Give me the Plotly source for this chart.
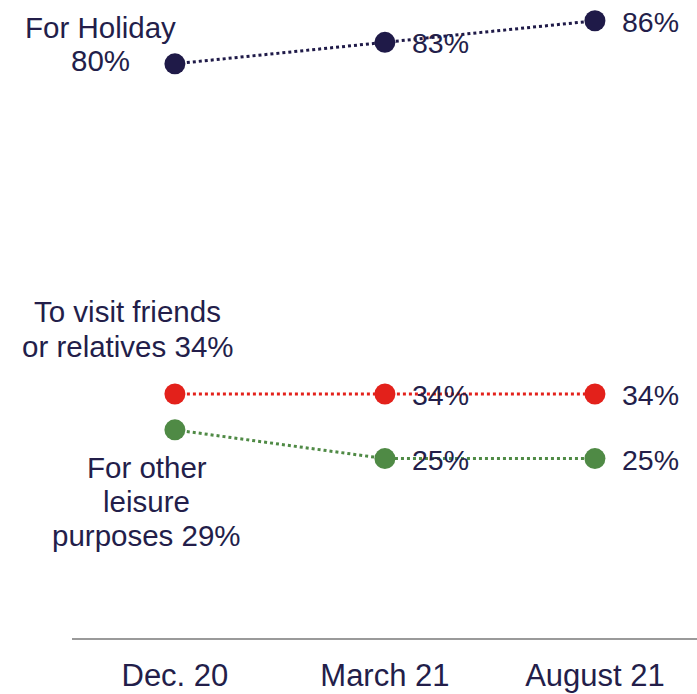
import plotly.graph_objects as go

periods = ["Dec. 20", "March 21", "August 21"]
holiday = [80, 83, 86]
friends = [34, 34, 34]
leisure = [29, 25, 25]

NAVY = "#1f1a48"
RED = "#e3211b"
GREEN = "#4f8a45"
TEXT = "#231e4a"
FONT = "Arial"

fig = go.Figure()

for vals, col in [(holiday, NAVY), (friends, RED), (leisure, GREEN)]:
    fig.add_trace(go.Scatter(
        x=periods, y=vals, mode="lines+markers",
        line=dict(color=col, width=3, dash="dot"),
        marker=dict(color=col, size=21),
        showlegend=False, hoverinfo="skip",
    ))

# value labels for later periods, to the right of each point
for vals in (holiday, friends, leisure):
    for i in (1, 2):
        fig.add_annotation(
            x=periods[i], y=vals[i], text=f"{vals[i]}%",
            xanchor="left", yanchor="middle", xshift=25, yshift=-1,
            showarrow=False, font=dict(size=28.5, color=TEXT, family=FONT),
        )


def series_name(lines, y, xshift, yshifts):
    """Series name beside the first point, one centred annotation per line."""
    for line, ys in zip(lines, yshifts):
        fig.add_annotation(
            x=periods[0], y=y, text=line,
            xanchor="center", yanchor="middle", xshift=xshift, yshift=ys,
            showarrow=False, font=dict(size=29.5, color=TEXT, family=FONT),
        )


series_name(["For Holiday", f"{holiday[0]}%"], holiday[0], -74, [36, 3])
series_name(["To visit friends", f"or relatives {friends[0]}%"], friends[0],
            -47, [82, 47])
series_name(["For other", "leisure", f"purposes {leisure[0]}%"], leisure[0],
            -28, [-38, -72, -106])

fig.update_layout(
    width=697, height=694,
    margin=dict(l=72, r=0, t=10, b=56),
    paper_bgcolor="white", plot_bgcolor="white",
    xaxis=dict(
        type="category", range=[-0.49, 2.486], automargin=False,
        showline=True, linecolor="#9a9a9a", linewidth=1.5,
        showgrid=False, zeroline=False, ticks="",
        ticklabelstandoff=9,
        tickfont=dict(size=31, color=TEXT, family=FONT),
    ),
    yaxis=dict(range=[0, 87.5], visible=False, showgrid=False, zeroline=False),
)

fig.write_html("out.html")
